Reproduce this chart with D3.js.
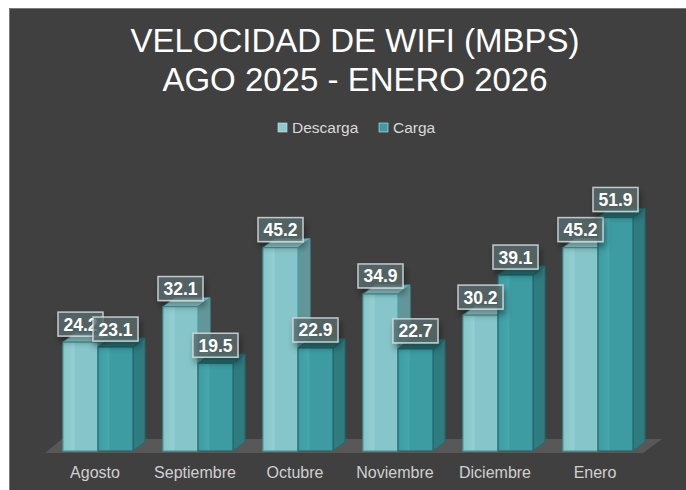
<!DOCTYPE html>
<html>
<head>
<meta charset="utf-8">
<script src="https://cdn.jsdelivr.net/npm/d3@7"></script>
<style>
  html, body { margin: 0; padding: 0; background: #ffffff; }
  svg { display: block; font-family: "Liberation Sans", Arial, sans-serif; }
</style>
</head>
<body>
<div id="chart"></div>
<script>
var w = 686;
var h = 490;

// data
var months = ["Agosto", "Septiembre", "Octubre", "Noviembre", "Diciembre", "Enero"];
var series = ["Descarga", "Carga"];
var descarga = [24.2, 32.1, 45.2, 34.9, 30.2, 45.2];
var carga = [23.1, 19.5, 22.9, 22.7, 39.1, 51.9];
var titleLines = ["VELOCIDAD DE WIFI (MBPS)", "AGO 2025 - ENERO 2026"];

var values = { Descarga: descarga, Carga: carga };

// look of each series: front, top, side, edge
var colors = {
  Descarga: { front: "#86c5c9", light: "#93cfd2", top: "#9fd4d7", side: "#6aa6aa", edge: "#4a9ea3", legend: "#8ccacd" },
  Carga:    { front: "#3c9ca2", light: "#45a6ac", top: "#2f767a", side: "#2e7b80", edge: "#25686c", legend: "#3c9ca2" }
};

var baseY = 451;
var depthX = 12;
var depthY = -9;

var svg = d3.select("#chart")
  .append("svg")
  .attr("width", w)
  .attr("height", h);

var defs = svg.append("defs");
defs.append("filter")
  .attr("id", "lblShadow")
  .attr("x", "-30%").attr("y", "-30%").attr("width", "160%").attr("height", "190%")
  .append("feDropShadow")
  .attr("dx", 2).attr("dy", 5)
  .attr("stdDeviation", 3)
  .attr("flood-color", "#000")
  .attr("flood-opacity", 0.45);

// background panel
svg.append("rect")
  .attr("x", 9).attr("y", 8)
  .attr("width", w - 9).attr("height", h - 8)
  .attr("fill", "#404040");
svg.append("path")
  .attr("d", "M9.5," + h + " V8.5 H" + w)
  .attr("fill", "none")
  .attr("stroke", "#7a7a7a")
  .attr("stroke-width", 1);

// title
var titleX = 355;
svg.selectAll("text.title")
  .data(titleLines)
  .enter().append("text")
  .attr("class", "title")
  .attr("x", titleX)
  .attr("y", function(d, i) { return 52 + i * 39; })
  .attr("text-anchor", "middle")
  .attr("fill", "#ffffff")
  .attr("font-size", 33)
  .text(function(d) { return d; });

// legend
var legend = svg.append("g").attr("transform", "translate(278,123)");
var legendItems = legend.selectAll("g")
  .data(series)
  .enter().append("g")
  .attr("transform", function(d, i) { return "translate(" + (i * 101) + ",0)"; });
legendItems.append("rect")
  .attr("width", 9).attr("height", 9)
  .attr("fill", function(d) { return colors[d].legend; })
  .attr("stroke", "#d0e6e7")
  .attr("stroke-width", 0.6);
legendItems.append("text")
  .attr("x", 14).attr("y", 10)
  .attr("fill", "#d9d9d9")
  .attr("font-size", 15.5)
  .text(function(d) { return d; });

// scales
var x = d3.scaleBand()
  .domain(months)
  .range([48, 648])
  .paddingInner(0.3)
  .paddingOuter(0.15);

var xs = d3.scaleBand()
  .domain(series)
  .range([0, x.bandwidth()]);

var y = d3.scaleLinear()
  .domain([0, 60])
  .range([baseY, baseY - 270]);

// floor
var fx0 = x.range()[0] - 3;
var fx1 = x.range()[1] - 5;
svg.append("path")
  .attr("d", "M" + fx0 + "," + (baseY + 2) + " L" + fx1 + "," + (baseY + 2) +
             " L" + (fx1 + 19) + "," + (baseY - 12) + " L" + (fx0 + 17) + "," + (baseY - 12) + " Z")
  .attr("fill", "#585858");

// gradients for the fronts
series.forEach(function(s, k) {
  var g = defs.append("linearGradient")
    .attr("id", "front" + k)
    .attr("x1", 0).attr("x2", 1).attr("y1", 0).attr("y2", 0);
  g.append("stop").attr("offset", "0%").attr("stop-color", colors[s].front);
  g.append("stop").attr("offset", "30%").attr("stop-color", colors[s].light);
  g.append("stop").attr("offset", "36%").attr("stop-color", colors[s].front);
  g.append("stop").attr("offset", "100%").attr("stop-color", colors[s].front);
});

// bars
var barData = [];
months.forEach(function(m, i) {
  series.forEach(function(s, k) {
    barData.push({ month: m, series: s, k: k, value: values[s][i] });
  });
});

var bars = svg.append("g").selectAll("g.bar")
  .data(barData)
  .enter().append("g")
  .attr("class", "bar");

function barX(d) { return x(d.month) + xs(d.series); }

bars.append("path")
  .attr("d", function(d) {
    var x0 = barX(d) + xs.bandwidth(), yt = y(d.value);
    return "M" + x0 + "," + baseY + " L" + (x0 + depthX) + "," + (baseY + depthY) +
      " L" + (x0 + depthX) + "," + (yt + depthY) + " L" + x0 + "," + yt + " Z";
  })
  .attr("fill", function(d) { return colors[d.series].side; })
  .attr("fill-opacity", function(d) { return d.k === 0 ? 0.85 : 1; })
  .attr("stroke", function(d) { return colors[d.series].edge; })
  .attr("stroke-width", 1);

bars.append("path")
  .attr("d", function(d) {
    var x0 = barX(d), bw = xs.bandwidth(), yt = y(d.value);
    return "M" + x0 + "," + yt + " L" + (x0 + depthX) + "," + (yt + depthY) +
      " L" + (x0 + bw + depthX) + "," + (yt + depthY) + " L" + (x0 + bw) + "," + yt + " Z";
  })
  .attr("fill", function(d) { return colors[d.series].top; })
  .attr("stroke", function(d) { return colors[d.series].edge; })
  .attr("stroke-width", 1);

bars.append("rect")
  .attr("x", barX)
  .attr("y", function(d) { return y(d.value); })
  .attr("width", xs.bandwidth())
  .attr("height", function(d) { return baseY - y(d.value); })
  .attr("fill", function(d) { return "url(#front" + d.k + ")"; })
  .attr("stroke", function(d) { return colors[d.series].edge; })
  .attr("stroke-width", 1.2);

// value labels
var boxW = 45, boxH = 24;
var labels = svg.append("g").selectAll("g.lbl")
  .data(barData)
  .enter().append("g")
  .attr("class", "lbl")
  .attr("transform", function(d) {
    var cx = barX(d) + xs.bandwidth() / 2;
    return "translate(" + (cx - boxW / 2) + "," + (y(d.value) - 6 - boxH) + ")";
  });

labels.append("rect")
  .attr("width", boxW).attr("height", boxH)
  .attr("fill", "rgba(88,108,110,0.78)")
  .attr("stroke", "rgba(215,222,222,0.85)")
  .attr("stroke-width", 1.5)
  .attr("filter", "url(#lblShadow)");

labels.append("text")
  .attr("x", boxW / 2).attr("y", boxH - 5.5)
  .attr("text-anchor", "middle")
  .attr("fill", "#ffffff")
  .attr("font-size", 17.5)
  .attr("font-weight", "bold")
  .text(function(d) { return d3.format(".1f")(d.value); });

// category labels
svg.append("g").selectAll("text.cat")
  .data(months)
  .enter().append("text")
  .attr("class", "cat")
  .attr("x", function(d) { return x(d) + x.bandwidth() / 2 - 3; })
  .attr("y", 478)
  .attr("text-anchor", "middle")
  .attr("fill", "#d0d0d0")
  .attr("font-size", 16)
  .text(function(d) { return d; });
</script>
</body>
</html>
